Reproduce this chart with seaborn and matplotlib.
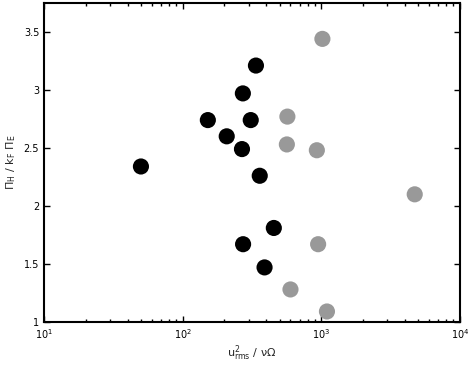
import numpy as np
import pandas as pd
import seaborn as sns
import matplotlib
matplotlib.use("Agg")
import matplotlib.pyplot as plt

# black points
x_black = [50, 152, 208, 268, 272, 310, 338, 360, 455, 273, 390]
y_black = [2.34, 2.74, 2.60, 2.49, 2.97, 2.74, 3.21, 2.26, 1.81, 1.67, 1.47]
# grey points
x_grey = [1020, 570, 565, 930, 4730, 950, 600, 1100]
y_grey = [3.44, 2.77, 2.53, 2.48, 2.10, 1.67, 1.28, 1.09]

df = pd.DataFrame({
    "x": x_black + x_grey,
    "y": y_black + y_grey,
    "grp": ["a"] * len(x_black) + ["b"] * len(x_grey),
})

sns.set_style("ticks")
plt.rcParams["font.family"] = ["DejaVu Sans"]

fig = plt.figure(figsize=(4.74, 3.65), dpi=100)
ax = fig.add_axes([0.093, 0.118, 0.877, 0.874])

sns.scatterplot(data=df, x="x", y="y", hue="grp",
                palette={"a": "black", "b": "#999999"},
                s=135, edgecolor="none", legend=False, ax=ax)

ax.set_xscale("log")
ax.set_xlim(10, 1e4)
ax.set_ylim(1, 3.75)
ax.set_yticks([1, 1.5, 2, 2.5, 3, 3.5])
ax.set_yticklabels(["1", "1.5", "2", "2.5", "3", "3.5"])
ax.tick_params(which="both", direction="in", top=True, right=True,
               labelsize=7, width=1, colors="black")
ax.tick_params(which="major", length=4)
ax.tick_params(which="minor", length=2)
for sp in ax.spines.values():
    sp.set_visible(True)
    sp.set_linewidth(1.5)
    sp.set_color("black")

ax.set_xlabel(r"$\mathrm{u^2_{rms}\ /\ \nu\Omega}$", fontsize=8, labelpad=2)
ax.set_ylabel(r"$\mathrm{\Pi_H\ /\ k_F\ \Pi_E}$", fontsize=8, labelpad=4)

fig.savefig("out.png", dpi=100)
